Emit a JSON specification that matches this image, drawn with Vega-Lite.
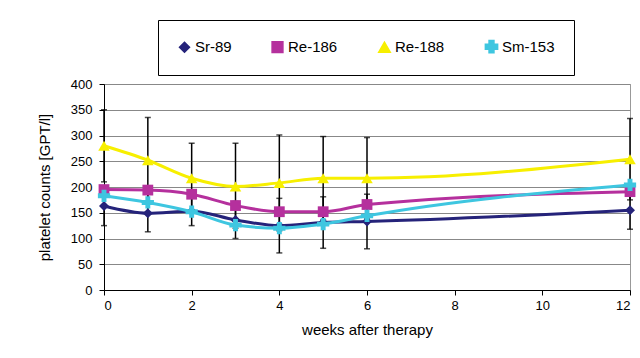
{
  "$schema": "https://vega.github.io/schema/vega-lite/v6.json",
  "width": 526,
  "height": 206,
  "autosize": {"type": "none"},
  "padding": {"left": 104, "top": 84, "right": 10, "bottom": 68},
  "background": "white",
  "config": {
    "font": "Liberation Sans",
    "view": {"stroke": "#999999", "strokeWidth": 1},
    "axis": {"labelColor": "black", "titleColor": "black", "labelFont": "Liberation Sans", "titleFont": "Liberation Sans", "titleFontWeight": "normal"},
    "legend": {"orient": "none", "legendX": 54, "legendY": -64, "direction": "horizontal", "strokeColor": "black", "fillColor": "white", "padding": 19, "labelFontSize": 15, "labelColor": "black", "labelFont": "Liberation Sans", "columnPadding": 37, "symbolSize": 100, "labelOffset": 3}
  },
  "datasets": {
    "pts": [
      {"series": "Sr-89", "week": 0, "value": 163},
      {"series": "Sr-89", "week": 1, "value": 149},
      {"series": "Sr-89", "week": 2, "value": 153},
      {"series": "Sr-89", "week": 3, "value": 136},
      {"series": "Sr-89", "week": 4, "value": 125},
      {"series": "Sr-89", "week": 5, "value": 131},
      {"series": "Sr-89", "week": 6, "value": 133},
      {"series": "Sr-89", "week": 12, "value": 155},
      {"series": "Re-186", "week": 0, "value": 195},
      {"series": "Re-186", "week": 1, "value": 194},
      {"series": "Re-186", "week": 2, "value": 186},
      {"series": "Re-186", "week": 3, "value": 164},
      {"series": "Re-186", "week": 4, "value": 152},
      {"series": "Re-186", "week": 5, "value": 152},
      {"series": "Re-186", "week": 6, "value": 166},
      {"series": "Re-186", "week": 12, "value": 191},
      {"series": "Re-188", "week": 0, "value": 280},
      {"series": "Re-188", "week": 1, "value": 252},
      {"series": "Re-188", "week": 2, "value": 217},
      {"series": "Re-188", "week": 3, "value": 201},
      {"series": "Re-188", "week": 4, "value": 208},
      {"series": "Re-188", "week": 5, "value": 217},
      {"series": "Re-188", "week": 6, "value": 217},
      {"series": "Re-188", "week": 12, "value": 254},
      {"series": "Sm-153", "week": 0, "value": 183},
      {"series": "Sm-153", "week": 1, "value": 170},
      {"series": "Sm-153", "week": 2, "value": 152},
      {"series": "Sm-153", "week": 3, "value": 126},
      {"series": "Sm-153", "week": 4, "value": 120},
      {"series": "Sm-153", "week": 5, "value": 128},
      {"series": "Sm-153", "week": 6, "value": 144},
      {"series": "Sm-153", "week": 12, "value": 204}
    ],
    "err": [
      {"series": "Re-188", "week": 0, "lo": 210, "hi": 350},
      {"series": "Re-188", "week": 1, "lo": 170, "hi": 335},
      {"series": "Re-188", "week": 2, "lo": 150, "hi": 285},
      {"series": "Re-188", "week": 3, "lo": 120, "hi": 285},
      {"series": "Re-188", "week": 4, "lo": 115, "hi": 301},
      {"series": "Re-188", "week": 5, "lo": 136, "hi": 298},
      {"series": "Re-188", "week": 6, "lo": 138, "hi": 296},
      {"series": "Re-188", "week": 12, "lo": 175, "hi": 333},
      {"series": "Sr-89", "week": 0, "lo": 125, "hi": 200},
      {"series": "Sr-89", "week": 1, "lo": 113, "hi": 187},
      {"series": "Sr-89", "week": 2, "lo": 125, "hi": 180},
      {"series": "Sr-89", "week": 3, "lo": 100, "hi": 172},
      {"series": "Sr-89", "week": 4, "lo": 72, "hi": 178},
      {"series": "Sr-89", "week": 5, "lo": 81, "hi": 181},
      {"series": "Sr-89", "week": 6, "lo": 80, "hi": 186},
      {"series": "Sr-89", "week": 12, "lo": 118, "hi": 192}
    ]
  },
  "encoding": {
    "x": {"field": "week", "type": "quantitative", "scale": {"domain": [0, 12], "nice": false},
      "axis": {"values": [0, 2, 4, 6, 8, 10, 12], "title": "weeks after therapy", "grid": false, "labelFontSize": 13, "titleFontSize": 15, "titlePadding": 10, "domainColor": "black", "tickColor": "black", "tickSize": 5, "labelPadding": 4}}
  },
  "layer": [
    {
      "data": {"name": "err"},
      "mark": {"type": "rule", "color": "black", "strokeWidth": 1.5},
      "encoding": {
        "y": {"field": "lo", "type": "quantitative", "scale": {"domain": [0, 400], "nice": false},
          "axis": {"values": [0, 50, 100, 150, 200, 250, 300, 350, 400], "title": "platelet counts [GPT/l]", "gridColor": "#888888", "gridWidth": 1, "labelFontSize": 13, "titleFontSize": 15, "titlePadding": 18, "domainColor": "black", "tickColor": "black", "tickSize": 5, "labelPadding": 7, "labelOverlap": false}},
        "y2": {"field": "hi"}
      }
    },
    {
      "data": {"name": "err"},
      "mark": {"type": "tick", "color": "black", "orient": "horizontal", "size": 6, "thickness": 1.5},
      "encoding": {"y": {"field": "lo", "type": "quantitative",
          "axis": {"values": [0, 50, 100, 150, 200, 250, 300, 350, 400], "title": "platelet counts [GPT/l]", "gridColor": "#888888", "gridWidth": 1, "labelFontSize": 13, "titleFontSize": 15, "titlePadding": 18, "domainColor": "black", "tickColor": "black", "tickSize": 5, "labelPadding": 7, "labelOverlap": false}}}
    },
    {
      "data": {"name": "err"},
      "mark": {"type": "tick", "color": "black", "orient": "horizontal", "size": 6, "thickness": 1.5},
      "encoding": {"y": {"field": "hi", "type": "quantitative",
          "axis": {"values": [0, 50, 100, 150, 200, 250, 300, 350, 400], "title": "platelet counts [GPT/l]", "gridColor": "#888888", "gridWidth": 1, "labelFontSize": 13, "titleFontSize": 15, "titlePadding": 18, "domainColor": "black", "tickColor": "black", "tickSize": 5, "labelPadding": 7, "labelOverlap": false}}}
    },
    {
      "data": {"name": "pts"},
      "mark": {"type": "line", "strokeWidth": 3, "interpolate": "monotone"},
      "encoding": {
        "y": {"field": "value", "type": "quantitative",
          "axis": {"values": [0, 50, 100, 150, 200, 250, 300, 350, 400], "title": "platelet counts [GPT/l]", "gridColor": "#888888", "gridWidth": 1, "labelFontSize": 13, "titleFontSize": 15, "titlePadding": 18, "domainColor": "black", "tickColor": "black", "tickSize": 5, "labelPadding": 7, "labelOverlap": false}},
        "color": {"field": "series", "type": "nominal",
          "scale": {"domain": ["Sr-89", "Re-186", "Re-188", "Sm-153"], "range": ["#25237a", "#b5309d", "#f7ef00", "#3ec6e0"]},
          "legend": {"title": null}}
      }
    },
    {
      "data": {"name": "pts"},
      "mark": {"type": "point", "filled": true, "opacity": 1},
      "encoding": {
        "y": {"field": "value", "type": "quantitative",
          "axis": {"values": [0, 50, 100, 150, 200, 250, 300, 350, 400], "title": "platelet counts [GPT/l]", "gridColor": "#888888", "gridWidth": 1, "labelFontSize": 13, "titleFontSize": 15, "titlePadding": 18, "domainColor": "black", "tickColor": "black", "tickSize": 5, "labelPadding": 7, "labelOverlap": false}},
        "color": {"field": "series", "type": "nominal",
          "scale": {"domain": ["Sr-89", "Re-186", "Re-188", "Sm-153"], "range": ["#25237a", "#b5309d", "#f7ef00", "#3ec6e0"]},
          "legend": {"title": null}},
        "shape": {"field": "series", "type": "nominal",
          "scale": {"domain": ["Sr-89", "Re-186", "Re-188", "Sm-153"], "range": ["diamond", "square", "triangle-up", "cross"]},
          "legend": {"title": null}},
        "size": {"field": "series", "type": "nominal",
          "scale": {"domain": ["Sr-89", "Re-186", "Re-188", "Sm-153"], "range": [100, 150, 130, 16]},
          "legend": null}
      }
    }
  ]
}
